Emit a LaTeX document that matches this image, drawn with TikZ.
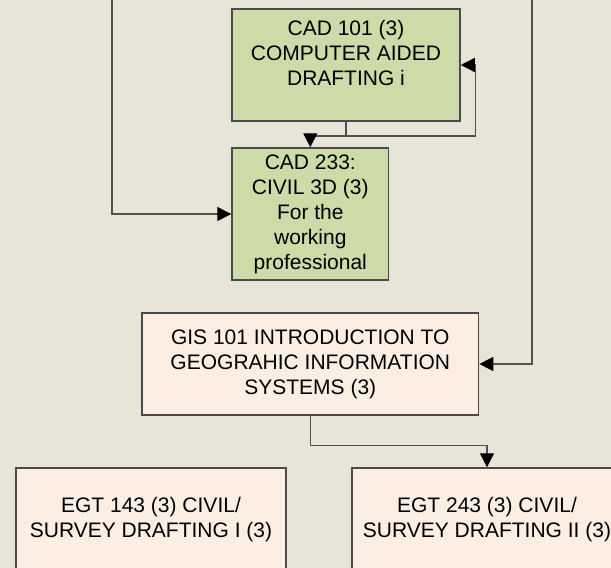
\documentclass[tikz,border=0pt]{standalone}
\usepackage{fontspec}
\setmainfont{Liberation Sans}
\usetikzlibrary{arrows.meta}
\definecolor{bgbeige}{HTML}{E7E5D8}
\definecolor{cadgreen}{HTML}{CCDBA8}
\definecolor{coursepeach}{HTML}{FDEEE4}
\definecolor{boxline}{HTML}{4A4A4A}
\definecolor{flowline}{HTML}{505050}
\tikzset{
  course/.style={draw=boxline, line width=1.5pt, rectangle, inner sep=0pt, align=center,
    font=\fontsize{21}{25}\selectfont},
  cad/.style={course, fill=cadgreen},
  gen/.style={course, fill=coursepeach},
  flow/.style={draw=flowline, line width=1.3pt, -{Triangle[length=14pt,width=14pt,color=black]}}
}
\begin{document}
\begin{tikzpicture}[x=1pt, y=-1pt]
    \useasboundingbox (0,0) rectangle (611,568);
    \clip (0,0) rectangle (611,568);
    \fill[bgbeige] (0,0) rectangle (611,568);
    \node[cad, minimum width=228pt, minimum height=112pt] (cad101) at (346,65) {CAD 101 (3)\\COMPUTER AIDED\\DRAFTING i\\~};
    \node[cad, minimum width=156.5pt, minimum height=132pt] (cad233) at (310.3,214) {CAD 233:\\CIVIL 3D (3)\\For the\\working\\professional};
    \node[gen, minimum width=336.6pt, minimum height=102pt] (gis) at (310.3,364) {GIS 101 INTRODUCTION TO\\GEOGRAHIC INFORMATION\\SYSTEMS (3)};
    \node[gen, minimum width=270pt, minimum height=103pt] (egt143) at (151,519.5) {EGT 143 (3) CIVIL/\\SURVEY DRAFTING I (3)};
    \node[gen, minimum width=270pt, minimum height=103pt] (egt243) at (487,519.5) {EGT 243 (3) CIVIL/\\SURVEY DRAFTING II (3)};
    \coordinate (topleft) at (112,0);
    \coordinate (topright) at (532,0);
    \coordinate (split) at (346,136);
    \coordinate (loop) at (475.5,136);
    \draw[flow] (topleft) |- (cad233.west);
    \draw[flow] (topright) |- (gis.east);
    \draw[flow] (cad101.south) -- (split) -| (cad233.north);
    \draw[flow] (split) -- (loop) |- (cad101.east);
    \draw[flow] (gis.south) -- ++(0,30) -| (egt243.north);
\end{tikzpicture}
\end{document}
